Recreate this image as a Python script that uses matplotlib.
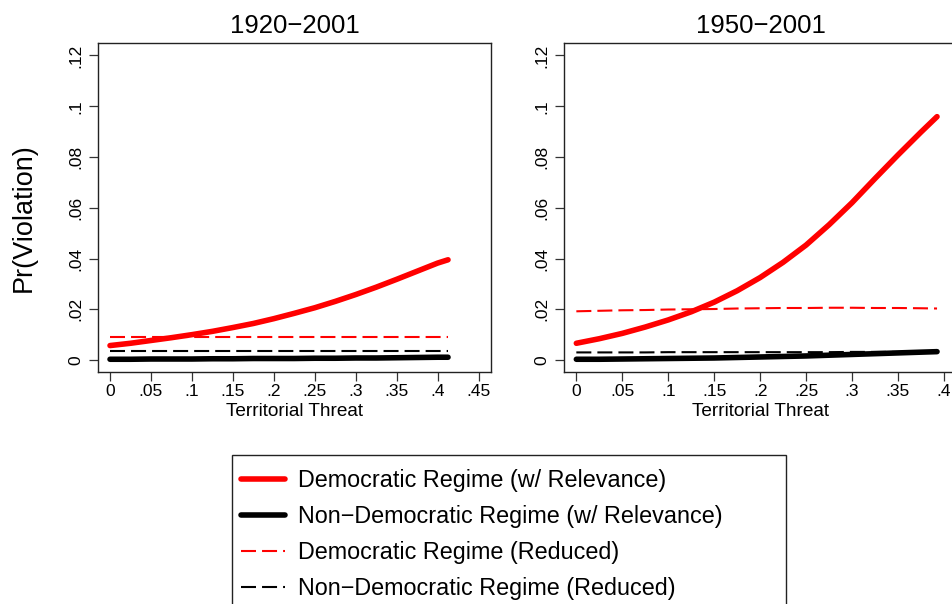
import matplotlib
matplotlib.use("Agg")
import matplotlib.pyplot as plt
from matplotlib.patches import Rectangle

plt.rcParams["font.family"] = ["Liberation Sans", "DejaVu Sans"]

# ---- data -------------------------------------------------------------
# 1920-2001 sample
threat_a = [0, 0.025, 0.05, 0.075, 0.1, 0.125, 0.15, 0.175, 0.2, 0.225,
            0.25, 0.275, 0.3, 0.325, 0.35, 0.375, 0.4, 0.4127]
dem_rel_a = [0.0057, 0.0066, 0.0077, 0.0088, 0.0100, 0.0113, 0.0128, 0.0144,
             0.0163, 0.0184, 0.0206, 0.0231, 0.0258, 0.0287, 0.0318, 0.0350,
             0.0382, 0.0395]
nondem_rel_a = [0.0003, 0.0003, 0.0004, 0.0004, 0.0004, 0.0005, 0.0005, 0.0006,
                0.0006, 0.0006, 0.0007, 0.0007, 0.0008, 0.0008, 0.0009, 0.0010,
                0.0011, 0.0011]
dem_red_a = [0.0089] * len(threat_a)
nondem_red_a = [0.0034] * len(threat_a)

# 1950-2001 sample
threat_b = [0, 0.025, 0.05, 0.075, 0.1, 0.125, 0.15, 0.175, 0.2, 0.225,
            0.25, 0.275, 0.3, 0.325, 0.35, 0.375, 0.3925]
dem_rel_b = [0.0066, 0.0084, 0.0105, 0.0130, 0.0158, 0.0190, 0.0228, 0.0273,
             0.0325, 0.0385, 0.0453, 0.0533, 0.0620, 0.0715, 0.0808, 0.0898,
             0.0959]
nondem_rel_b = [0.0003, 0.0003, 0.0004, 0.0005, 0.0006, 0.0007, 0.0008, 0.0010,
                0.0012, 0.0014, 0.0016, 0.0019, 0.0022, 0.0025, 0.0028, 0.0031,
                0.0033]
dem_red_b = [0.0192, 0.0194, 0.0196, 0.0197, 0.0199, 0.0200, 0.0201, 0.0203,
             0.0204, 0.0205, 0.0205, 0.0206, 0.0206, 0.0205, 0.0205, 0.0204,
             0.0203]
nondem_red_b = [0.0030, 0.0030, 0.0030, 0.0030, 0.0031, 0.0031, 0.0031, 0.0031,
                0.0031, 0.0031, 0.0031, 0.0031, 0.0032, 0.0032, 0.0032, 0.0032,
                0.0032]

panel_titles = ["1920\u22122001", "1950\u22122001"]
x_ticks = [0, 0.05, 0.1, 0.15, 0.2, 0.25, 0.3, 0.35, 0.4, 0.45]
x_ticklabels = ["0", ".05", ".1", ".15", ".2", ".25", ".3", ".35", ".4", ".45"]
y_ticks = [0, 0.02, 0.04, 0.06, 0.08, 0.1, 0.12]
y_ticklabels = ["0", ".02", ".04", ".06", ".08", ".1", ".12"]
series_labels = ["Democratic Regime (w/ Relevance)",
                 "Non\u2212Democratic Regime (w/ Relevance)",
                 "Democratic Regime (Reduced)",
                 "Non\u2212Democratic Regime (Reduced)"]

# ---- figure -----------------------------------------------------------
W, H = 952, 604
fig = plt.figure(figsize=(W / 100, H / 100), dpi=100)

def px_box(left, top, width, height):
    return [left / W, 1 - (top + height) / H, width / W, height / H]

ax1 = fig.add_axes(px_box(98.3, 43.3, 392.4, 328.4))
ax2 = fig.add_axes(px_box(564.3, 43.3, 392.4, 328.4))

dash = (0, (7.2, 2.9))
thick = 4.0
thin = 1.5

panels = [
    (ax1, threat_a, dem_rel_a, nondem_rel_a, dem_red_a, nondem_red_a, (-0.0143, 0.4648)),
    (ax2, threat_b, dem_rel_b, nondem_rel_b, dem_red_b, nondem_red_b, (-0.0131, 0.4139)),
]

handles = None
for i, (ax, t, dr, nr, dd, nd, xl) in enumerate(panels):
    h1, = ax.plot(t, dr, color="#ff0000", lw=thick, solid_capstyle="round",
                  solid_joinstyle="round")
    h2, = ax.plot(t, nr, color="black", lw=thick, solid_capstyle="round",
                  solid_joinstyle="round")
    h3, = ax.plot(t, dd, color="#ff0000", lw=thin, linestyle=dash)
    h4, = ax.plot(t, nd, color="black", lw=thin, linestyle=dash)
    if handles is None:
        handles = [h1, h2, h3, h4]
    ax.set_xticks(x_ticks)
    ax.set_xticklabels(x_ticklabels)
    ax.set_yticks(y_ticks)
    ax.set_yticklabels(y_ticklabels, rotation=90, va="center")
    ax.set_xlim(*xl)
    ax.set_ylim(-0.0046, 0.1248)
    ax.tick_params(axis="both", direction="out", length=6.5, width=0.9,
                   color="#333333", labelsize=12.5, labelcolor="black")
    ax.tick_params(axis="y", pad=4)
    ax.tick_params(axis="x", pad=2.5)
    for sp in ax.spines.values():
        sp.set_color("#222222")
        sp.set_linewidth(1.0)
    ax.set_title(panel_titles[i], fontsize=18.5, pad=7.5)
    ax.set_xlabel("Territorial Threat", fontsize=13.7, labelpad=2.5)

fig.text(24 / W, 1 - 218 / H, "Pr(Violation)", rotation=90, fontsize=19.5,
         ha="center", va="center")

# legend with its frame drawn separately
fig.patches.append(Rectangle((232 / W, 1 - 620 / H), (786 - 232) / W, (620 - 455) / H,
                             transform=fig.transFigure, fill=False,
                             edgecolor="#222222", lw=1.0))
fig.legend(handles, series_labels, loc="upper left",
           bbox_to_anchor=(241 / W, 1 - 469 / H), frameon=False,
           fontsize=16.8, handlelength=1.90, handletextpad=0.56,
           labelspacing=0.56, borderpad=0, borderaxespad=0)

fig.savefig("out.png", dpi=100)
